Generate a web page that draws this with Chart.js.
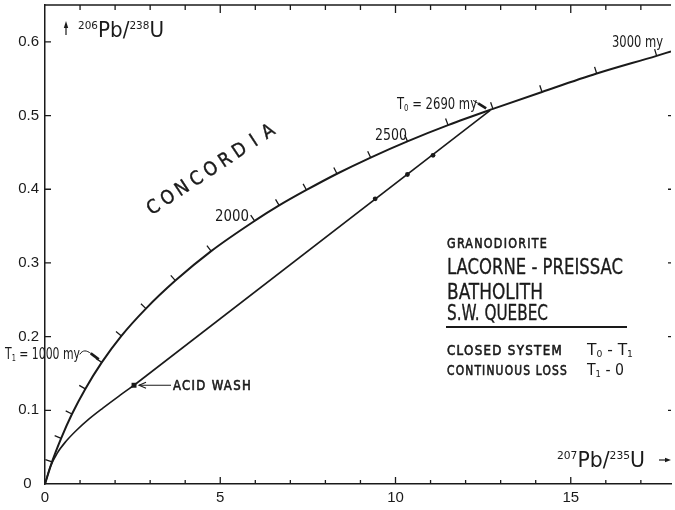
<!DOCTYPE html>
<html>
<head>
<meta charset="utf-8">
<script src="https://cdn.jsdelivr.net/npm/chart.js@4/dist/chart.umd.min.js"></script>
<style>
  html, body { margin: 0; padding: 0; background: #fff; }
  #wrap { width: 675px; height: 510px; position: relative; }
</style>
</head>
<body>
<div id="wrap"><canvas id="c"></canvas></div>
<script>
// Concordia curve: age (my), 207Pb/235U and 206Pb/238U
const concordiaAges = [0, 200, 400, 600, 800, 1000, 1200, 1400, 1600, 1800, 2000,
  2100, 2200, 2300, 2400, 2500, 2600, 2700, 2800, 2900, 3000, 3030];
const concordiaX = [0, 0.20, 0.46, 0.77, 1.15, 1.62, 2.18, 2.88, 3.72, 4.74, 5.98,
  6.68, 7.46, 8.33, 9.29, 10.34, 11.50, 12.78, 14.18, 15.74, 17.45, 17.86];
const concordiaY = [0, 0.030, 0.062, 0.095, 0.129, 0.165, 0.201, 0.238, 0.276, 0.316, 0.357,
  0.378, 0.399, 0.421, 0.443, 0.465, 0.487, 0.509, 0.532, 0.557, 0.581, 0.587];
// ages carrying a tick mark on the concordia
const tickedAges = [200, 400, 600, 800, 1000, 1200, 1400, 1600, 1800, 2000,
  2100, 2200, 2300, 2400, 2500, 2600, 2700, 2800, 2900, 3000];

// Continuous-loss path from 0 to the acid-wash point
const lossX = [0, 0.15, 0.35, 0.6, 0.9, 1.25, 1.65, 2.1, 2.54];
const lossY = [0, 0.023, 0.042, 0.058, 0.073, 0.088, 0.103, 0.119, 0.134];

// Closed-system chord from the acid-wash point to T0
const chordX = [2.54, 12.70];
const chordY = [0.134, 0.507];

// Measured zircon fractions
const sampleX = [9.42, 10.34, 11.07];
const sampleY = [0.387, 0.420, 0.446];

// Acid-wash fraction
const acidWashX = [2.54];
const acidWashY = [0.134];

// Reference ages on the concordia
const t0Point = [12.70, 0.507];   // 2690 my
const t1Point = [1.62, 0.165];    // 1000 my

// Axis ticks and labels
const xTicks = [0, 1, 2, 3, 4, 5, 6, 7, 8, 9, 10, 11, 12, 13, 14, 15, 16, 17];
const xLabels = { 0: '0', 5: '5', 10: '10', 15: '15' };
const yTicks = [0, 0.1, 0.2, 0.3, 0.4, 0.5, 0.6];
const yLabels = ['0\u2002', '0.1', '0.2', '0.3', '0.4', '0.5', '0.6'];

const INK = '#1a1a1a';
const FONT = '"DejaVu Sans Condensed", "Liberation Sans Narrow", "Liberation Sans", sans-serif';
const NUMFONT = '"Liberation Sans", Arial, sans-serif';

const pts = (xs, ys) => xs.map((v, i) => ({ x: v, y: ys[i] }));

// Draw a run of text pieces (main, super/subscripts) scaled to a given width;
// `heavy` adds a thin outline so the lettering reads a little darker
function runs(ctx, parts, left, base, width, heavy) {
  ctx.save();
  let total = 0;
  parts.forEach(p => {
    ctx.font = `${p.s}px ${FONT}`;
    ctx.letterSpacing = (p.ls || 0) + 'px';
    p.w = ctx.measureText(p.t).width;
    total += p.w;
  });
  ctx.translate(left, base);
  if (width) ctx.scale(width / total, 1);
  ctx.textBaseline = 'alphabetic';
  ctx.textAlign = 'left';
  ctx.lineWidth = heavy || 0;
  ctx.lineJoin = 'round';
  let cx = 0;
  parts.forEach(p => {
    ctx.font = `${p.s}px ${FONT}`;
    ctx.letterSpacing = (p.ls || 0) + 'px';
    ctx.fillText(p.t, cx, p.dy || 0);
    if (heavy) ctx.strokeText(p.t, cx, p.dy || 0);
    cx += p.w;
  });
  ctx.restore();
}
// single text line: left edge, vertical centre of capitals, size, width
function text(ctx, str, left, mid, size, width, ls, heavy) {
  runs(ctx, [{ t: str, s: size, ls: ls || 0 }], left, mid + size * 0.36, width, heavy);
}

const decor = {
  id: 'decor',
  afterDatasetsDraw(chart) {
    const { ctx, chartArea: a, scales: { x, y } } = chart;
    ctx.save();
    ctx.strokeStyle = INK;
    ctx.fillStyle = INK;
    ctx.lineCap = 'butt';

    // frame: top edge
    ctx.lineWidth = 1.5;
    ctx.beginPath();
    ctx.moveTo(a.left, a.top); ctx.lineTo(a.right, a.top);
    ctx.stroke();

    // inward axis ticks
    ctx.lineWidth = 1.3;
    ctx.beginPath();
    xTicks.forEach(v => {
      const px = x.getPixelForValue(v);
      const big = v % 5 === 0;
      if (v > 0) {
        ctx.moveTo(px, a.bottom); ctx.lineTo(px, a.bottom - (big ? 7 : 4));
        ctx.moveTo(px, a.top); ctx.lineTo(px, a.top + (big ? 8 : 5));
      }
    });
    yTicks.forEach(v => {
      if (v === 0) return;
      const py = y.getPixelForValue(v);
      ctx.moveTo(a.left, py); ctx.lineTo(a.left + 6, py);
      if (v <= 0.5) { ctx.moveTo(a.right, py); ctx.lineTo(a.right - 3, py); }
    });
    ctx.stroke();

    // age ticks on the concordia, normal to the curve on its upper side
    ctx.lineWidth = 1.3;
    ctx.beginPath();
    tickedAges.forEach(age => {
      const i = concordiaAges.indexOf(age);
      const px = x.getPixelForValue(concordiaX[i]);
      const py = y.getPixelForValue(concordiaY[i]);
      const ax = x.getPixelForValue(concordiaX[i - 1]), ay = y.getPixelForValue(concordiaY[i - 1]);
      const bx = x.getPixelForValue(concordiaX[i + 1]), by = y.getPixelForValue(concordiaY[i + 1]);
      let tx = bx - ax, ty = by - ay;
      const n = Math.hypot(tx, ty); tx /= n; ty /= n;
      const nx = ty, ny = -tx;
      ctx.moveTo(px, py); ctx.lineTo(px + nx * 7, py + ny * 7);
    });
    ctx.stroke();

    // axis titles
    // y: up arrow + 206Pb/238U
    ctx.lineWidth = 1.2;
    ctx.beginPath(); ctx.moveTo(66, 35); ctx.lineTo(66, 25); ctx.stroke();
    ctx.beginPath(); ctx.moveTo(66, 21); ctx.lineTo(63.8, 28); ctx.lineTo(68.2, 28); ctx.closePath(); ctx.fill();
    runs(ctx, [
      { t: '206', s: 11, dy: -8 }, { t: 'Pb', s: 21 }, { t: '/', s: 21 },
      { t: '238', s: 11, dy: -8 }, { t: 'U', s: 21 }
    ], 78, 37, 86);
    // x: 207Pb/235U + right arrow
    runs(ctx, [
      { t: '207', s: 11, dy: -8 }, { t: 'Pb', s: 21 }, { t: '/', s: 21 },
      { t: '235', s: 11, dy: -8 }, { t: 'U', s: 21 }
    ], 557, 467, 88);
    ctx.lineWidth = 1.2;
    ctx.beginPath(); ctx.moveTo(659, 460); ctx.lineTo(666, 460); ctx.stroke();
    ctx.beginPath(); ctx.moveTo(671, 460); ctx.lineTo(665, 457.8); ctx.lineTo(665, 462.2); ctx.closePath(); ctx.fill();

    // CONCORDIA lettering along the curve
    const word = 'CONCORDIA';
    const ang = -33.5 * Math.PI / 180;
    ctx.font = `19px ${FONT}`;
    ctx.textAlign = 'center';
    ctx.textBaseline = 'middle';
    ctx.lineWidth = 0.4;
    for (let k = 0; k < word.length; k++) {
      const cx = 154 + Math.cos(ang) * 17.2 * k;
      const cy = 208 + Math.sin(ang) * 17.2 * k;
      ctx.save(); ctx.translate(cx, cy); ctx.rotate(ang);
      ctx.fillText(word[k], 0, 0);
      ctx.strokeText(word[k], 0, 0);
      ctx.restore();
    }

    // age labels
    text(ctx, '2000', 215, 216, 15, 34);
    text(ctx, '2500', 375, 135, 15, 32);
    text(ctx, '3000 my', 612, 42, 15, 51);
    runs(ctx, [{ t: 'T', s: 15 }, { t: '0', s: 9, dy: 2 }, { t: ' = 2690 my', s: 15 }], 397, 104 + 5.4, 80);
    runs(ctx, [{ t: 'T', s: 15 }, { t: '1', s: 9, dy: 2 }, { t: ' = 1000 my', s: 15 }], 5, 354 + 5.4, 75);

    // pointer to T0
    const p0x = x.getPixelForValue(t0Point[0]), p0y = y.getPixelForValue(t0Point[1]);
    ctx.lineWidth = 1;
    ctx.beginPath(); ctx.moveTo(p0x - 17, p0y - 10); ctx.lineTo(p0x - 12, p0y - 7); ctx.stroke();
    ctx.lineWidth = 2.6;
    ctx.beginPath(); ctx.moveTo(p0x - 12, p0y - 7); ctx.lineTo(p0x - 4, p0y - 2); ctx.stroke();

    // pointer to T1
    const p1x = x.getPixelForValue(t1Point[0]), p1y = y.getPixelForValue(t1Point[1]);
    ctx.lineWidth = 1;
    ctx.beginPath();
    ctx.moveTo(p1x - 22, p1y - 8);
    ctx.bezierCurveTo(p1x - 19, p1y - 13, p1x - 15, p1y - 12, p1x - 11, p1y - 9);
    ctx.stroke();
    ctx.lineWidth = 2.6;
    ctx.beginPath(); ctx.moveTo(p1x - 11, p1y - 9); ctx.lineTo(p1x - 3, p1y - 3); ctx.stroke();

    // ACID WASH label and arrow
    const awx = x.getPixelForValue(acidWashX[0]), awy = y.getPixelForValue(acidWashY[0]);
    ctx.lineWidth = 1.1;
    ctx.beginPath(); ctx.moveTo(awx + 37, awy); ctx.lineTo(awx + 5, awy); ctx.stroke();
    ctx.beginPath(); ctx.moveTo(awx + 12, awy - 3); ctx.lineTo(awx + 5, awy); ctx.lineTo(awx + 12, awy + 3); ctx.stroke();
    text(ctx, 'ACID WASH', 173, 385, 14, 79, 1.4, 0.6);

    // legend block
    text(ctx, 'GRANODIORITE', 447, 243, 14, 101, 1.4, 0.6);
    text(ctx, 'LACORNE - PREISSAC', 447, 266, 21, 176, 0, 0.3);
    text(ctx, 'BATHOLITH', 447, 291, 21, 96, 0, 0.3);
    text(ctx, 'S.W. QUEBEC', 447, 312, 21, 101, 0, 0.3);
    ctx.lineWidth = 1.8;
    ctx.beginPath(); ctx.moveTo(446, 327); ctx.lineTo(627, 327); ctx.stroke();
    text(ctx, 'CLOSED SYSTEM', 447, 350, 14, 116, 1.4, 0.6);
    runs(ctx, [{ t: 'T', s: 15 }, { t: '0', s: 9, dy: 2 }, { t: ' - T', s: 15 }, { t: '1', s: 9, dy: 2 }], 587, 350 + 5.4, 46);
    text(ctx, 'CONTINUOUS LOSS', 447, 370, 14, 121, 1.4, 0.6);
    runs(ctx, [{ t: 'T', s: 15 }, { t: '1', s: 9, dy: 2 }, { t: ' - 0', s: 15 }], 587, 370 + 5.4, 37);

    ctx.restore();
  }
};

new Chart(document.getElementById('c'), {
  type: 'scatter',
  data: {
    datasets: [
      { data: pts(concordiaX, concordiaY), showLine: true, borderColor: INK, borderWidth: 2,
        cubicInterpolationMode: 'monotone', pointRadius: 0 },
      { data: pts(lossX, lossY), showLine: true, borderColor: INK, borderWidth: 1.6,
        cubicInterpolationMode: 'monotone', pointRadius: 0 },
      { data: pts(chordX, chordY), showLine: true, borderColor: INK, borderWidth: 1.6,
        tension: 0, pointRadius: 0 },
      { data: pts(sampleX, sampleY), showLine: false, pointRadius: 2.4,
        pointBackgroundColor: INK, pointBorderWidth: 0 },
      { data: pts(acidWashX, acidWashY), showLine: false, pointStyle: 'rect', pointRadius: 3.5,
        pointBackgroundColor: INK, pointBorderWidth: 0 }
    ]
  },
  options: {
    responsive: true,
    maintainAspectRatio: false,
    animation: false,
    events: [],
    layout: { padding: { top: 5, right: 0, left: 0, bottom: 0 } },
    plugins: { legend: { display: false }, tooltip: { enabled: false } },
    scales: {
      x: {
        type: 'linear', min: 0, max: 17.86,
        grid: { display: false, drawTicks: false },
        border: { display: true, color: INK, width: 1.5 },
        afterBuildTicks: s => { s.ticks = xTicks.map(v => ({ value: v })); },
        afterFit: s => { s.height = 26; s.paddingLeft = 0; s.paddingRight = 0; },
        ticks: {
          padding: 5, color: INK, maxRotation: 0, autoSkip: false,
          font: { size: 15, family: NUMFONT },
          callback: v => (xLabels[v] !== undefined ? xLabels[v] : '')
        }
      },
      y: {
        type: 'linear', min: 0, max: 0.65,
        grid: { display: false, drawTicks: false },
        border: { display: true, color: INK, width: 1.5 },
        afterBuildTicks: s => { s.ticks = yTicks.map(v => ({ value: v })); },
        afterFit: s => { s.width = 45; s.paddingTop = 0; s.paddingBottom = 0; },
        ticks: {
          padding: 6, color: INK, autoSkip: false,
          font: { size: 15, family: NUMFONT },
          callback: (v, i) => yLabels[i]
        }
      }
    }
  },
  plugins: [decor]
});
</script>
</body>
</html>
